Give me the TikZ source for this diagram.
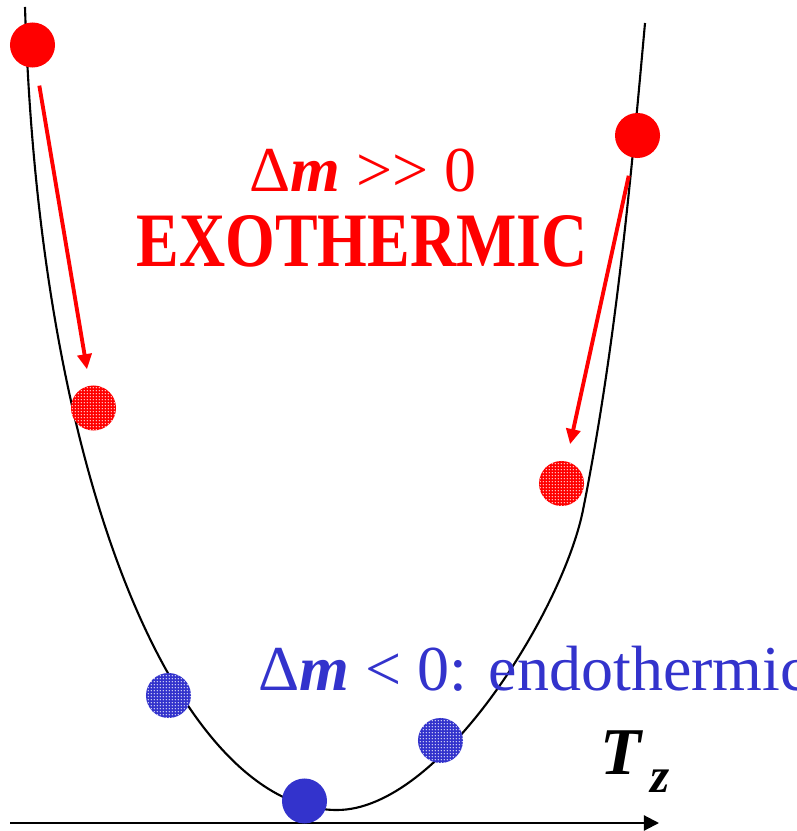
\documentclass[tikz,border=0pt]{standalone}
\usepackage{fontspec}
\setmainfont{Liberation Serif}
\usetikzlibrary{arrows.meta, positioning, patterns.meta}
\definecolor{HotRed}{HTML}{FF0000}
\definecolor{CoolBlue}{HTML}{3333CC}
\tikzset{
    ball/.style={circle, inner sep=0pt, minimum size=0.45cm},
    hot/.style={ball, fill=HotRed},
    warm/.style={ball, fill=HotRed, postaction={pattern={Dots[distance=0.9pt, radius=0.22pt]}, pattern color=white}},
    cold/.style={ball, fill=CoolBlue},
    cool/.style={ball, fill=CoolBlue, postaction={pattern={Dots[distance=0.9pt, radius=0.22pt]}, pattern color=white}},
    drop/.style={-{Triangle[length=4.3pt, width=4pt]}, line width=1.1pt, draw=HotRed},
    well/.style={line width=0.6pt, draw=black},
    axis/.style={-{Triangle[length=4.3pt, width=4.3pt]}, line width=0.6pt},
    hottext/.style={text=HotRed, inner sep=0pt},
    cooltext/.style={text=CoolBlue, inner sep=0pt}
}

\begin{document}
\begin{tikzpicture}[x=0.01cm, y=-0.01cm]
    \useasboundingbox (0,0) rectangle (796,831);
    % Potential well
    \coordinate (wellL) at (25,7);
    \coordinate (wellB) at (337,810);
    \coordinate (wellM) at (583,510);
    \coordinate (wellR) at (645,23);
    \draw[well] (wellL) .. controls (40,500) and (185,810) .. (wellB)
        .. controls (440,810) and (563,610) .. (wellM)
        .. controls (615,350) and (630.6,183) .. (wellR);

    % Axis
    \coordinate (origin) at (10,823);
    \coordinate (xend) at (659,823);
    \draw[axis] (origin) -- (xend);
    \node[anchor=base west, inner sep=0pt, font=\fontsize{19}{22}\selectfont] (tz) at (600,774)
        {\textbf{\textit{T}}\kern2pt\raisebox{-0.28em}{\fontsize{14}{16}\selectfont\textbf{\textit{z}}}};

    % Balls
    \node[hot] (hotL) at (32.5,45) {};
    \node[warm] (warmL) at (93.5,408) {};
    \node[hot] (hotR) at (637.5,135.5) {};
    \node[warm] (warmR) at (561.5,483.5) {};
    \node[cool] (coolL) at (168.5,695.5) {};
    \node[cool] (coolR) at (440.5,740.5) {};
    \node[cold] (coldB) at (304.5,801) {};

    % Relaxation arrows
    \draw[drop, shorten <=0.18cm, shorten >=0.16cm] (hotL) -- (warmL);
    \draw[drop, shorten <=0.18cm, shorten >=0.17cm] (hotR) -- (warmR);

    % Labels
    \node[hottext, anchor=base, font=\fontsize{18.2}{20}\selectfont] (exoa) at (363,192) {Δ\textbf{\textit{m}} >{}> 0};
    \node[hottext, anchor=base, font=\fontsize{21.9}{24}\selectfont\bfseries] (exob) at (362,267) {\scalebox{0.83}[1]{EXOTHERMIC}};
    \node[cooltext, anchor=base west, font=\fontsize{18.2}{20}\selectfont] (endo) at (258,690) {Δ\textbf{\textit{m}} < 0: endothermic};
\end{tikzpicture}
\end{document}
